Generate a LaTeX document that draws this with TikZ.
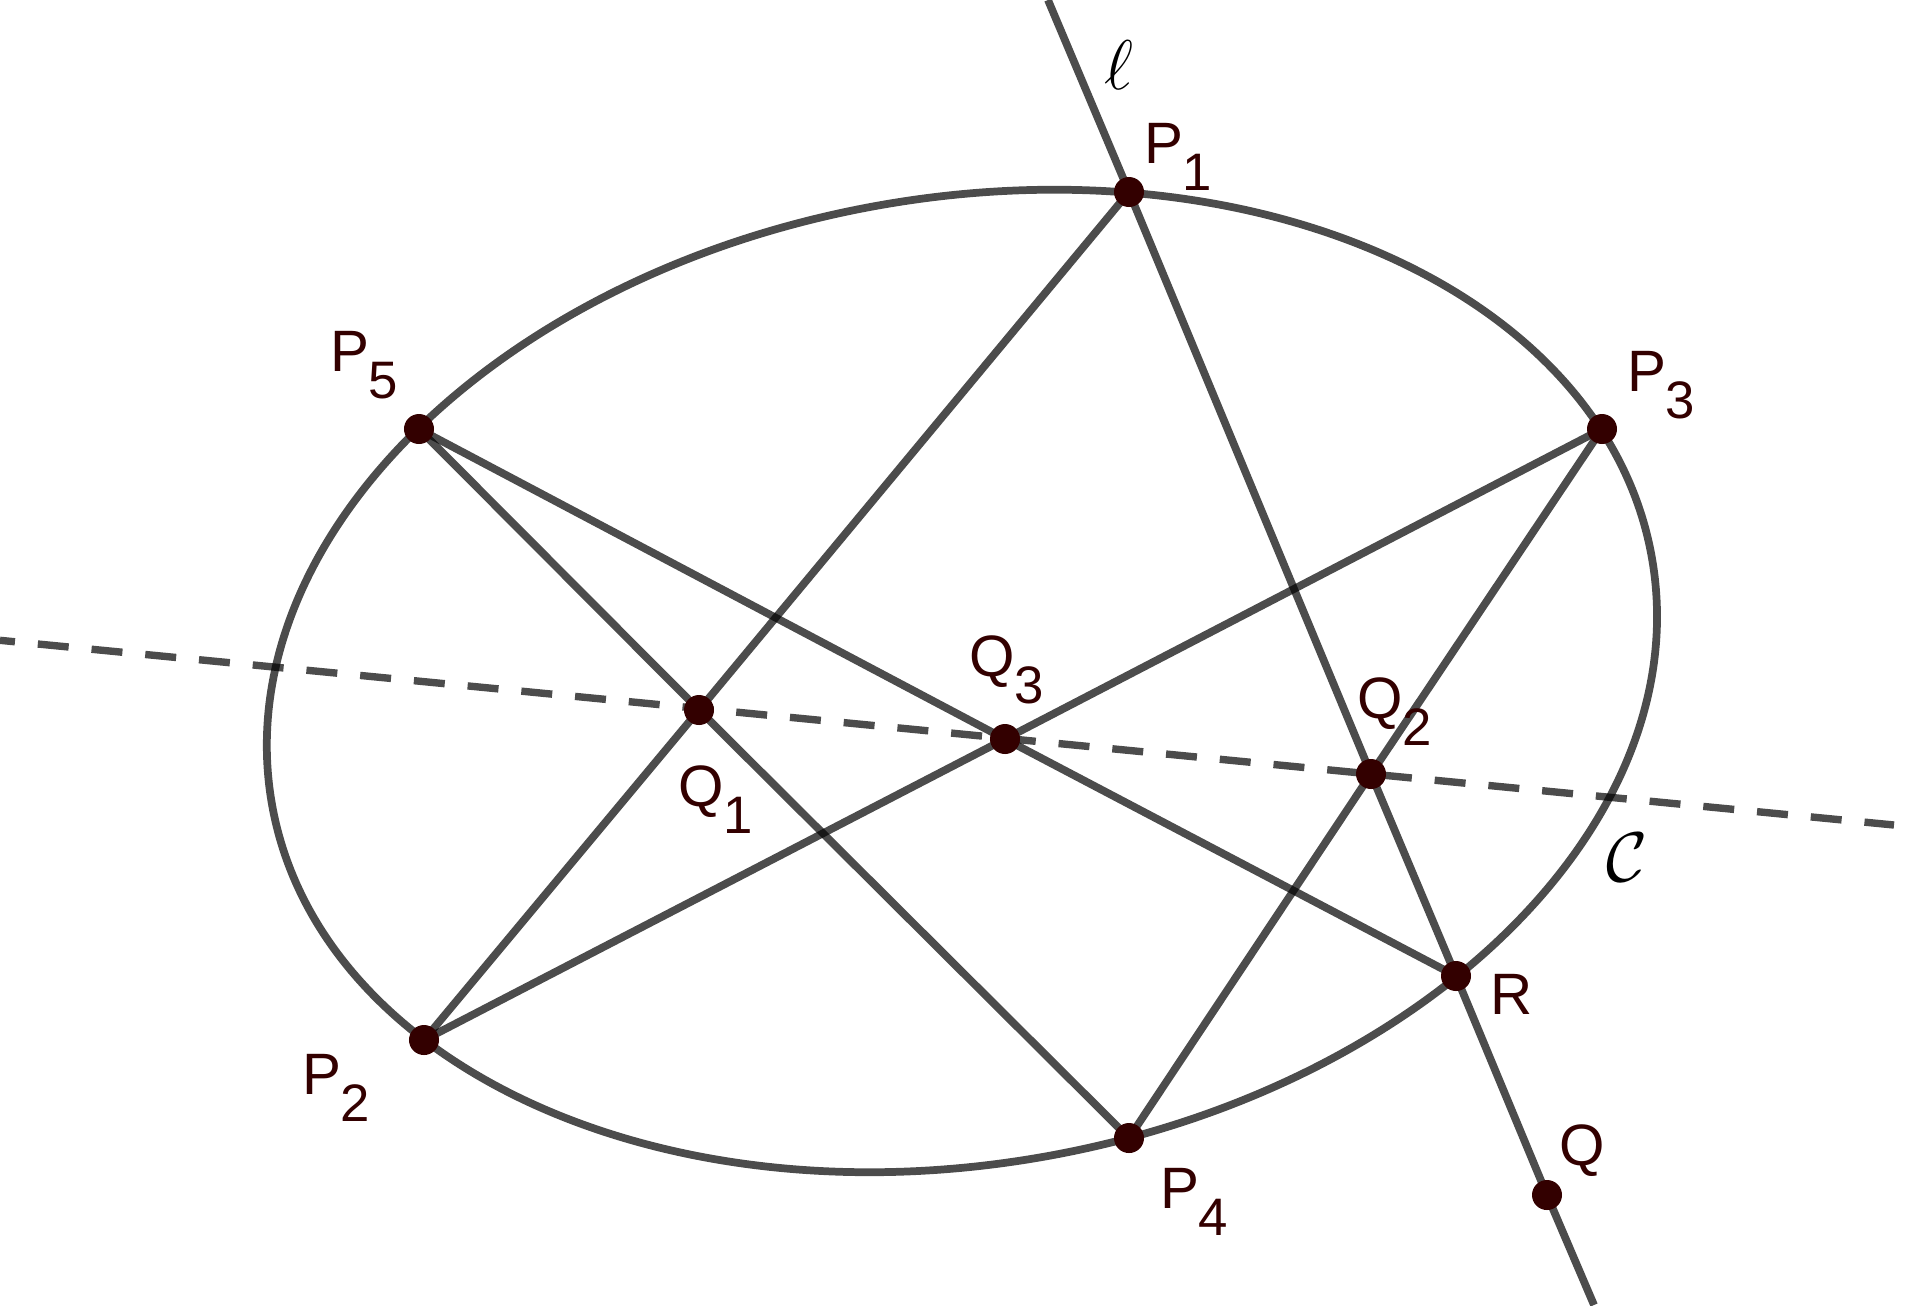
\documentclass[tikz,border=0pt]{standalone}
\usepackage{fix-cm}
\usepackage{fontspec}
\setmainfont{Liberation Sans}
\usetikzlibrary{backgrounds}
\newcommand{\ptlabel}[2]{#1\hspace{-0.01cm}\raisebox{-0.27cm}{\fontsize{15}{17}\selectfont #2}}
\tikzset{
  line/.style = {draw=black, draw opacity=0.7, line width=2.2pt},
  dashline/.style = {line, line width=2.1pt, dash pattern=on 8.82pt off 6.53pt, dash phase=4.55pt},
  dot/.style = {circle, fill={rgb,255:red,51;green,0;blue,0}, inner sep=0pt, minimum size=0.3cm},
  lab/.style = {anchor=base west, inner sep=0pt, xshift=-0.03cm, text={rgb,255:red,51;green,0;blue,0}, font=\fontsize{16.6}{20}\selectfont},
  curv/.style = {inner sep=0pt, font=\fontsize{20}{24}\selectfont}
}

\begin{document}
\begin{tikzpicture}[x=0.01cm, y=-0.01cm]
  \useasboundingbox (0,0) rectangle (1905,1305);
  \coordinate (center) at (962,681);
  \coordinate (dashL) at (0,640.3);
  \coordinate (dashR) at (1894,825);
  \coordinate (lineT) at (1048,0);
  \coordinate (lineB) at (1594,1305);

  \node [dot] (P1) at (1129,192) {};
  \node [dot] (P2) at (424,1040) {};
  \node [dot] (P3) at (1602,429) {};
  \node [dot] (P4) at (1129,1138) {};
  \node [dot] (P5) at (419,429) {};
  \node [dot] (Q1) at (699,710) {};
  \node [dot] (Q2) at (1371,774) {};
  \node [dot] (Q3) at (1005,739) {};
  \node [dot] (R) at (1456,976) {};
  \node [dot] (Q) at (1547,1195) {};

  \begin{pgfonlayer}{background}
    \draw [line, rotate around={10.24:(center)}] (center) ellipse [x radius=7.005cm, y radius=4.825cm];
    \draw [dashline] (dashL) -- (dashR);
    \draw [line] (lineT) -- (P1.center) -- (Q2.center) -- (R.center) -- (Q.center) -- (lineB);
    \draw [line] (P1.center) -- (Q1.center) -- (P2.center);
    \draw [line] (P5.center) -- (Q1.center) -- (P4.center);
    \draw [line] (P5.center) -- (Q3.center) -- (R.center);
    \draw [line] (P2.center) -- (Q3.center) -- (P3.center);
    \draw [line] (P3.center) -- (Q2.center) -- (P4.center);
  \end{pgfonlayer}

  \node [lab] (labP1) at (1147,163) {\ptlabel{P}{1}};
  \node [lab] (labP2) at (305,1094) {\ptlabel{P}{2}};
  \node [lab] (labP3) at (1630,391) {\ptlabel{P}{3}};
  \node [lab] (labP4) at (1163,1208) {\ptlabel{P}{4}};
  \node [lab] (labP5) at (333,371) {\ptlabel{P}{5}};
  \node [lab] (labQ1) at (681,806) {\ptlabel{Q}{1}};
  \node [lab] (labQ2) at (1360,718) {\ptlabel{Q}{2}};
  \node [lab] (labQ3) at (972,676) {\ptlabel{Q}{3}};
  \node [lab] (labR) at (1493,1014) {R};
  \node [lab] (labQ) at (1562,1165) {Q};
  \node [curv] (labl) at (1119,65) {$\ell$};
  \node [curv] (labC) at (1627,857) {$\mathcal{C}$};
\end{tikzpicture}
\end{document}
